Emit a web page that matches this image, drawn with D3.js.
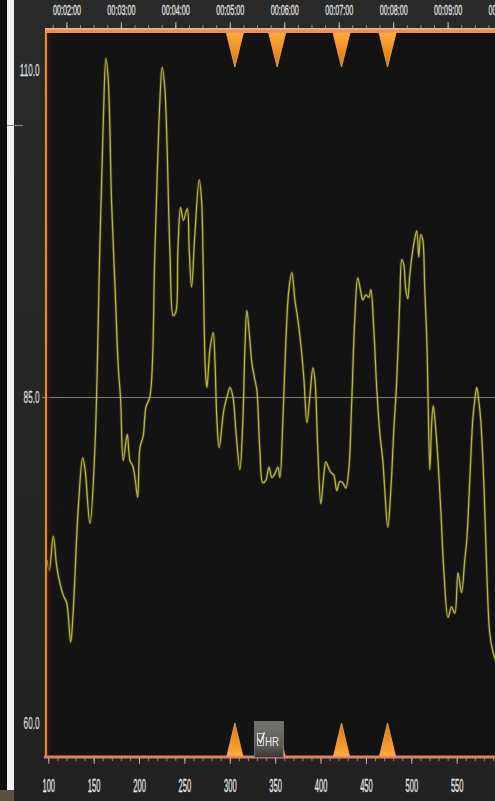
<!DOCTYPE html>
<html>
<head>
<meta charset="utf-8">
<script src="https://cdn.jsdelivr.net/npm/d3@7"></script>
<style>
  html, body { margin: 0; padding: 0; background: #111; }
  svg { display: block; }
  text { font-family: "Liberation Sans", Roboto, sans-serif; }
</style>
</head>
<body>
<svg id="chart" width="495" height="801"></svg>
<script>
// Heart-rate trace: elapsed time (s) and HR (bpm)
const seconds = [98.6,101.1,105.5,109.3,112.9,116.5,120.3,124.7,127.5,133.0,137.9,140.4,145.9,151.4,156.9,160.6,163.5,166.1,169.8,173.5,177.1,179.7,182.6,187.0,190.0,193.0,195.5,198.5,201.0,204.6,207.6,212.0,217.5,223.0,225.5,228.5,234.0,237.7,240.6,242.8,245.8,248.9,253.1,255.3,257.9,261.6,266.3,268.9,270.7,273.1,274.8,278.1,281.7,283.6,285.8,288.3,293.5,298.2,300.1,303.4,306.7,311.1,314.4,316.6,318.8,322.1,324.3,327.6,329.8,333.1,336.4,339.8,343.1,346.4,349.7,353.0,355.2,358.5,361.8,365.1,368.4,371.7,375.0,378.4,381.7,385.0,388.3,391.6,393.8,397.0,400.3,403.6,405.8,409.1,411.3,414.6,417.9,421.2,424.5,427.8,431.1,434.4,437.7,441.0,444.4,446.6,449.9,453.2,455.4,458.7,462.0,465.3,468.6,470.8,474.1,477.4,480.7,484.0,487.3,489.5,491.7,493.9,496.1,498.3,501.6,503.8,506.0,508.2,510.4,512.6,514.8,517.1,518.5,520.4,522.6,524.2,527.0,529.5,532.5,535.8,540.5,544.3,547.9,551.5,555.3,558.9,561.1,564.4,567.7,569.9,572.1,574.3,576.5,579.8,583.1,586.4,590.1,593.0];
const heartRate = [72.5,71.7,74.3,72.0,70.7,69.8,69.2,66.2,68.6,76.4,80.3,79.5,75.3,81.1,96.7,106.0,110.9,109.2,99.8,93.5,87.3,84.8,80.1,82.1,80.1,79.7,78.8,77.3,81.1,82.0,84.2,85.0,96.2,107.7,110.2,108.5,96.2,91.2,91.5,96.2,99.5,98.5,99.4,96.2,93.4,97.5,101.6,100.0,94.9,87.0,85.7,88.6,89.9,87.8,83.2,81.1,84.0,85.3,85.7,85.0,82.4,79.4,83.2,88.6,91.6,89.3,87.6,86.3,85.5,80.9,78.4,78.6,79.6,78.8,79.1,79.6,78.8,83.2,89.3,93.2,94.5,92.4,90.9,88.9,86.3,83.0,85.1,87.2,86.3,80.9,76.8,79.0,80.0,79.5,79.2,79.0,77.8,78.5,78.4,78.0,79.4,84.7,90.9,94.1,93.0,92.4,92.8,92.6,93.2,90.1,85.5,82.2,80.1,77.8,75.0,77.8,82.4,86.3,92.4,95.5,95.1,93.2,92.5,94.3,96.2,97.1,97.7,95.7,97.4,97.0,93.2,89.3,84.7,79.4,83.2,84.3,82.4,80.0,76.3,71.7,68.1,68.9,68.4,71.5,70.0,72.5,74.0,78.6,83.2,84.7,85.7,84.7,83.2,78.6,71.7,66.9,65.4,64.8];

// Event markers (s)
const markers = [305.6, 352.2, 423.1, 473.8];

// Axis tick values
const sampleTicks = [100, 150, 200, 250, 300, 350, 400, 450, 500, 550];
const timeTicks = [120, 180, 240, 300, 360, 420, 480, 540, 600];
const hrTicks = [60, 85, 110];
const hrReference = 85;
const seriesName = "HR";

const svg = d3.select("#chart");
const W = 495, H = 801;
const plot = { left: 46, right: 495, top: 31, bottom: 757 };

const x = d3.scaleLinear().domain([97.5, 592.2]).range([plot.left, plot.right]);
const y = d3.scaleLinear().domain([57.4, 113.0]).range([plot.bottom, plot.top]);

// Condensed look for the axis labels: horizontal squeeze of a regular face
const TOP_SQ = 0.465, BOTTOM_SQ = 0.42, LEFT_SQ = 0.48;

const defs = svg.append("defs");
const plotBg = defs.append("linearGradient").attr("id", "plotBg").attr("x1", 0).attr("x2", 1).attr("y1", 0).attr("y2", 0);
plotBg.append("stop").attr("offset", "0%").attr("stop-color", "#1d1418");
plotBg.append("stop").attr("offset", "3%").attr("stop-color", "#141414");
plotBg.append("stop").attr("offset", "100%").attr("stop-color", "#121212");

const marginBg = defs.append("linearGradient").attr("id", "marginBg").attr("x1", 0).attr("x2", 0).attr("y1", 0).attr("y2", 1);
marginBg.append("stop").attr("offset", "0%").attr("stop-color", "#2a2a2a");
marginBg.append("stop").attr("offset", "100%").attr("stop-color", "#222222");

const triDown = defs.append("linearGradient").attr("id", "triDown").attr("x1", 0).attr("x2", 0).attr("y1", 0).attr("y2", 1);
triDown.append("stop").attr("offset", "0%").attr("stop-color", "#ffab3a");
triDown.append("stop").attr("offset", "100%").attr("stop-color", "#dc730c");
const triUp = defs.append("linearGradient").attr("id", "triUp").attr("x1", 0).attr("x2", 0).attr("y1", 1).attr("y2", 0);
triUp.append("stop").attr("offset", "0%").attr("stop-color", "#ffab3a");
triUp.append("stop").attr("offset", "100%").attr("stop-color", "#dc730c");

const legendBg = defs.append("linearGradient").attr("id", "legendBg").attr("x1", 0).attr("x2", 0).attr("y1", 0).attr("y2", 1);
legendBg.append("stop").attr("offset", "0%").attr("stop-color", "#75746f");
legendBg.append("stop").attr("offset", "70%").attr("stop-color", "#5a5955");
legendBg.append("stop").attr("offset", "100%").attr("stop-color", "#3a3530");

defs.append("clipPath").attr("id", "plotClip")
  .append("rect").attr("x", plot.left + 1).attr("y", plot.top + 2)
  .attr("width", plot.right - plot.left).attr("height", plot.bottom - plot.top - 3);

// Window background and side strip
svg.append("rect").attr("width", W).attr("height", H).attr("fill", "url(#marginBg)");
svg.append("rect").attr("x", 0).attr("y", 0).attr("width", 7).attr("height", H).attr("fill", "#0f0f0f");
svg.append("rect").attr("x", 7).attr("y", 0).attr("width", 7).attr("height", 790).attr("fill", "#f1f1f1");
svg.append("line").attr("x1", 7).attr("x2", 23).attr("y1", 125.5).attr("y2", 125.5).attr("stroke", "#8a8a8a");
svg.append("rect").attr("x", 0).attr("y", 790).attr("width", 14).attr("height", 11).attr("fill", "#5c5040");

// Plot area
svg.append("rect").attr("x", plot.left).attr("y", plot.top)
  .attr("width", plot.right - plot.left).attr("height", plot.bottom - plot.top)
  .attr("fill", "url(#plotBg)");

// Reference line at 85 bpm
svg.append("line")
  .attr("x1", plot.left - 4).attr("x2", plot.right)
  .attr("y1", Math.round(y(hrReference)) + 0.5).attr("y2", Math.round(y(hrReference)) + 0.5)
  .attr("stroke", "#9a9a8e").attr("stroke-width", 1).attr("opacity", 0.8);

// HR trace
const data = d3.zip(seconds, heartRate).map(([t, hr]) => ({ t, hr }));
const line = d3.line().x(d => x(d.t)).y(d => y(d.hr)).curve(d3.curveCatmullRom.alpha(0.5));
const traceG = svg.append("g").attr("clip-path", "url(#plotClip)");
traceG.append("path").datum(data).attr("d", line)
  .attr("fill", "none").attr("stroke", "#8c8a2e").attr("stroke-width", 3).attr("opacity", 0.3);
traceG.append("path").datum(data).attr("d", line)
  .attr("fill", "none").attr("stroke", "#bab744").attr("stroke-width", 1.25);

// Left axis line
svg.append("line").attr("x1", plot.left).attr("x2", plot.left)
  .attr("y1", plot.top - 1).attr("y2", plot.bottom + 1)
  .attr("stroke", "#ee8a1e").attr("stroke-width", 2.2);
svg.append("line").attr("x1", plot.left + 2.5).attr("x2", plot.left + 2.5)
  .attr("y1", plot.top).attr("y2", plot.bottom)
  .attr("stroke", "#3a1a14").attr("stroke-width", 2).attr("opacity", 0.6);

// Top (time) axis
const pad2 = n => String(n).padStart(2, "0");
const fmtTime = s => `${pad2(Math.floor(s / 3600))}:${pad2(Math.floor(s % 3600 / 60))}:${pad2(s % 60)}`;

const topMinor = d3.range(105, 601, 15);
svg.append("g").attr("transform", `translate(0,${plot.top - 3})`)
  .call(d3.axisTop(x).tickValues(topMinor).tickSize(3).tickFormat(""))
  .call(g => g.select(".domain").remove())
  .call(g => g.selectAll("line").attr("stroke", "#c9b9a8").attr("opacity", 0.7));
const topAxis = svg.append("g").attr("transform", `translate(0,${plot.top - 3})`)
  .call(d3.axisTop(x).tickValues(timeTicks).tickSize(6).tickPadding(7.5).tickFormat(fmtTime));
topAxis.select(".domain").remove();
topAxis.selectAll("line").attr("stroke", "#ddd").attr("opacity", 0.8);
topAxis.selectAll("text").attr("fill", "#e2e2e2").attr("font-size", 15.5)
  .attr("stroke", "#e2e2e2").attr("stroke-width", 0.3)
  .attr("transform", `scale(${TOP_SQ},1)`);

svg.append("rect").attr("x", plot.left - 1).attr("y", plot.top - 3)
  .attr("width", plot.right - plot.left + 1).attr("height", 5).attr("fill", "#e9915a");
svg.append("rect").attr("x", plot.left - 1).attr("y", plot.top - 3)
  .attr("width", plot.right - plot.left + 1).attr("height", 1.5).attr("fill", "#f4b58a");

// Bottom (sample) axis
const bottomMinor = d3.range(100, 591, 10);
svg.append("g").attr("transform", `translate(0,${plot.bottom + 1})`)
  .call(d3.axisBottom(x).tickValues(bottomMinor).tickSize(3).tickFormat(""))
  .call(g => g.select(".domain").remove())
  .call(g => g.selectAll("line").attr("stroke", "#b9aea4").attr("opacity", 0.7));
const bottomAxis = svg.append("g").attr("transform", `translate(0,${plot.bottom + 1})`)
  .call(d3.axisBottom(x).tickValues(sampleTicks).tickSize(6).tickPadding(15).tickFormat(d3.format("d")));
bottomAxis.select(".domain").remove();
bottomAxis.selectAll("line").attr("stroke", "#cfcfcf").attr("opacity", 0.8);
bottomAxis.selectAll("text").attr("fill", "#e6e6e6").attr("font-size", 18)
  .attr("stroke", "#e6e6e6").attr("stroke-width", 0.3)
  .attr("transform", `scale(${BOTTOM_SQ},1)`);

svg.append("rect").attr("x", plot.left - 2).attr("y", plot.bottom - 1.5)
  .attr("width", plot.right - plot.left + 2).attr("height", 3).attr("fill", "#e07e68");

// Left (HR) axis labels
const leftAxis = svg.append("g").attr("transform", `translate(${plot.left},0)`)
  .call(d3.axisLeft(y).tickValues(hrTicks).tickSize(0).tickPadding(6.5).tickFormat(d3.format(".1f")));
leftAxis.select(".domain").remove();
leftAxis.selectAll("text").attr("fill", "#dedede").attr("font-size", 17)
  .attr("stroke", "#dedede").attr("stroke-width", 0.25)
  .attr("x", -6.5 / LEFT_SQ)
  .attr("transform", `scale(${LEFT_SQ},1)`);

// Event markers
const markerG = svg.append("g");
markerG.selectAll("path.top").data(markers).join("path").attr("class", "top")
  .attr("d", m => `M${x(m) - 8.5},${plot.top + 2} L${x(m) + 8.5},${plot.top + 2} L${x(m)},${plot.top + 36} Z`)
  .attr("fill", "url(#triDown)").attr("stroke", "#f7a850").attr("stroke-width", 0.8);
markerG.selectAll("path.bottom").data(markers).join("path").attr("class", "bottom")
  .attr("d", m => `M${x(m) - 8},${plot.bottom - 1} L${x(m) + 8},${plot.bottom - 1} L${x(m)},${plot.bottom - 34} Z`)
  .attr("fill", "url(#triUp)").attr("stroke", "#f7a850").attr("stroke-width", 0.8);

// Series legend
const legend = svg.append("g").attr("transform", "translate(254.5,721.5)");
legend.append("rect").attr("width", 29).attr("height", 36).attr("fill", "url(#legendBg)")
  .attr("stroke", "#8c8b86").attr("stroke-width", 0.6);
legend.append("rect").attr("x", 3).attr("y", 12).attr("width", 6).attr("height", 12)
  .attr("fill", "none").attr("stroke", "#e8e8e0").attr("stroke-width", 0.8);
legend.append("path").attr("d", "M3.5,17 L6,21 L10,11").attr("fill", "none")
  .attr("stroke", "#f2f2ea").attr("stroke-width", 1.4);
legend.append("text").attr("transform", "translate(10.5,24.5) scale(0.75,1)").attr("fill", "#ededed")
  .attr("font-size", 13).text(seriesName);
</script>
</body>
</html>
